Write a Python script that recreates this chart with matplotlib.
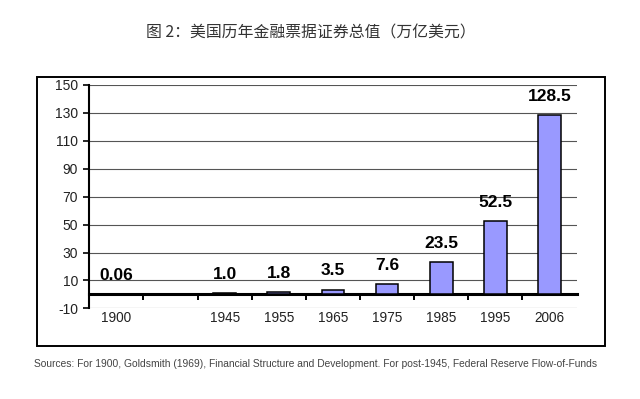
import matplotlib.pyplot as plt
from matplotlib.patches import Rectangle
import numpy as np

# data
years = ["1900", "", "1945", "1955", "1965", "1975", "1985", "1995", "2006"]
values = [0.06, np.nan, 1.0, 1.8, 3.5, 7.6, 23.5, 52.5, 128.5]
labels = ["0.06", "", "1.0", "1.8", "3.5", "7.6", "23.5", "52.5", "128.5"]
yticks = list(range(-10, 151, 20))

title = "图 2：美国历年金融票据证券总值（万亿美元）"
source = ("Sources: For 1900, Goldsmith (1969), Financial Structure and Development. "
          "For post-1945, Federal Reserve Flow-of-Funds")

plt.rcParams['font.family'] = ['Liberation Sans', 'DejaVu Sans']

fig = plt.figure(figsize=(6.4, 3.99), dpi=100)
ax = fig.add_axes([0.1395, 0.227, 0.7615, 0.56])

x = np.arange(len(years))
ax.bar(x, values, width=0.42, color="#9999FF", edgecolor="black", linewidth=1.1, zorder=3)

# value labels above bars
for xi, v, lab in zip(x, values, labels):
    if lab:
        ax.annotate(lab, (xi, v), xytext=(0, 8), textcoords="offset points",
                    ha="center", va="bottom", fontsize=12.5, fontweight="bold", color="black")

ax.set_xlim(-0.5, len(years) - 0.5)
ax.set_ylim(-10, 150)
ax.set_yticks(yticks)
ax.set_yticklabels([str(t) for t in yticks], fontsize=10, color="#222222")
ax.grid(axis="y", color="#555555", linewidth=0.8, zorder=0)
ax.tick_params(axis="y", direction="out", length=4, width=1.2, color="black", pad=4)

ax.set_xticks(x)
ax.set_xticklabels(years, fontsize=9.8, color="#222222")
ax.tick_params(axis="x", length=0, pad=2)

for s in ["top", "right", "bottom"]:
    ax.spines[s].set_visible(False)
ax.spines["left"].set_linewidth(1.5)
ax.spines["left"].set_color("black")

# zero line with ticks between categories
zero = ax.secondary_xaxis((0 - (-10)) / 160)
zero.set_xticks(np.arange(len(years) - 1) + 0.5)
zero.set_xticklabels([])
zero.tick_params(direction="out", length=4, width=1.4, color="black")
zero.spines["bottom"].set_linewidth(2.2)
zero.spines["bottom"].set_color("black")
zero.spines["bottom"].set_zorder(4)

# outer frame
fig.patches.append(Rectangle((37 / 640, 1 - 346 / 399), (605 - 37) / 640, (346 - 77) / 399,
                             transform=fig.transFigure, fill=False, edgecolor="black",
                             linewidth=1.4))

fig.text(0.485, 1 - 33 / 399, title, ha="center", va="center", fontsize=11.4, color="#333333",
         family=["Noto Sans CJK SC", "DejaVu Sans"])
fig.text(34 / 640, 1 - 364 / 399, source, ha="left", va="center", fontsize=7.4, color="#444444")

fig.savefig("out.png", dpi=100)
